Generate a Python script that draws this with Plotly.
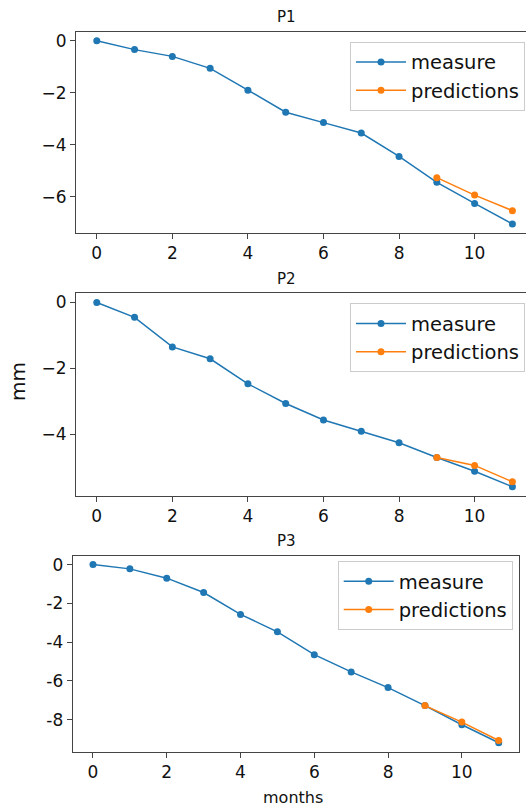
import plotly.graph_objects as go

# ---- data ----
months = list(range(12))
pred_months = [9, 10, 11]

p1_measure = [0, -0.34, -0.60, -1.06, -1.90, -2.75, -3.15, -3.55, -4.45, -5.45, -6.26, -7.05]
p1_pred = [-5.27, -5.94, -6.54]

p2_measure = [0, -0.45, -1.35, -1.71, -2.47, -3.07, -3.57, -3.91, -4.26, -4.71, -5.13, -5.60]
p2_pred = [-4.71, -4.95, -5.45]

p3_measure = [0, -0.22, -0.70, -1.44, -2.57, -3.47, -4.65, -5.54, -6.35, -7.28, -8.27, -9.20]
p3_pred = [-7.28, -8.13, -9.08]

panel_titles = ["P1", "P2", "P3"]
series_names = ["measure", "predictions"]

x_tickvals = [0, 2, 4, 6, 8, 10]
x_ticktext = ["0", "2", "4", "6", "8", "10"]
y1_tickvals = [0, -2, -4, -6]
y1_ticktext = ["0", "\u22122", "\u22124", "\u22126"]
y2_tickvals = [0, -2, -4]
y2_ticktext = ["0", "\u22122", "\u22124"]
y3_tickvals = [0, -2, -4, -6, -8]
y3_ticktext = ["0", "-2", "-4", "-6", "-8"]

BLUE = "#1f77b4"
ORANGE = "#ff7f0e"
FONT = "DejaVu Sans"
W, H = 526, 807

fig = go.Figure()

panels = [
    (p1_measure, p1_pred, "x", "y", "legend"),
    (p2_measure, p2_pred, "x2", "y2", "legend2"),
    (p3_measure, p3_pred, "x3", "y3", "legend3"),
]
for meas, pred, xa, ya, lg in panels:
    fig.add_trace(go.Scatter(x=months, y=meas, mode="lines+markers", name=series_names[0],
                             line=dict(color=BLUE, width=1.5), marker=dict(color=BLUE, size=7),
                             xaxis=xa, yaxis=ya, legend=lg))
    fig.add_trace(go.Scatter(x=pred_months, y=pred, mode="lines+markers", name=series_names[1],
                             line=dict(color=ORANGE, width=1.5), marker=dict(color=ORANGE, size=7),
                             xaxis=xa, yaxis=ya, legend=lg))


def px_x(p):
    return p / W


def px_y(p):
    return 1 - p / H


axis_common = dict(showline=True, linecolor="#444", linewidth=1, ticks="outside", ticklen=5,
                   tickcolor="#444", showgrid=False, zeroline=False,
                   tickfont=dict(family=FONT, size=17, color="#111"))

layout = dict(
    width=W, height=H, margin=dict(l=0, r=0, t=0, b=0),
    paper_bgcolor="white", plot_bgcolor="white",
    font=dict(family=FONT),
    xaxis=dict(domain=[px_x(76), 1], range=[-0.55, 11.36], anchor="y", mirror=True,
               tickvals=x_tickvals, ticktext=x_ticktext, **axis_common),
    yaxis=dict(domain=[px_y(233), px_y(31.7)], range=[-7.40, 0.35], anchor="x", mirror=False,
               tickvals=y1_tickvals, ticktext=y1_ticktext, **axis_common),
    xaxis2=dict(domain=[px_x(76), 1], range=[-0.55, 11.36], anchor="y2", mirror=True,
                tickvals=x_tickvals, ticktext=x_ticktext, **axis_common),
    yaxis2=dict(domain=[px_y(496), px_y(293.3)], range=[-5.88, 0.28], anchor="x2", mirror=False,
                tickvals=y2_tickvals, ticktext=y2_ticktext, **axis_common),
    xaxis3=dict(domain=[px_x(72.7), px_x(519)], range=[-0.55, 11.55], anchor="y3", mirror=True,
                tickvals=x_tickvals, ticktext=x_ticktext, **axis_common),
    yaxis3=dict(domain=[px_y(751.7), px_y(555.7)], range=[-9.66, 0.46], anchor="x3", mirror=True,
                tickvals=y3_tickvals, ticktext=y3_ticktext, **axis_common),
)

legend_common = dict(bgcolor="white", bordercolor="#cccccc", borderwidth=1,
                     font=dict(family=FONT, size=19.5, color="#111"), itemwidth=50,
                     xanchor="right", yanchor="top", xref="paper", yref="paper")
layout["legend"] = dict(x=px_x(525), y=px_y(41.7), **legend_common)
layout["legend2"] = dict(x=px_x(525), y=px_y(303.3), **legend_common)
layout["legend3"] = dict(x=px_x(512.7), y=px_y(561), **legend_common)

fig.update_layout(**layout)

annotations = []
for t, ypx in zip(panel_titles, [17, 279, 541]):
    annotations.append(dict(text=t, x=px_x(286), y=px_y(ypx), xref="paper", yref="paper",
                            showarrow=False, xanchor="center", yanchor="middle",
                            font=dict(family=FONT, size=15, color="#111")))
annotations.append(dict(text="months", x=px_x(293), y=px_y(797), xref="paper", yref="paper",
                        showarrow=False, xanchor="center", yanchor="middle",
                        font=dict(family=FONT, size=16, color="#111")))
annotations.append(dict(text="mm", x=px_x(18), y=px_y(382), xref="paper", yref="paper",
                        showarrow=False, xanchor="center", yanchor="middle", textangle=-90,
                        font=dict(family=FONT, size=20, color="#111")))
fig.update_layout(annotations=annotations)

fig.write_html("out.html", config={"displayModeBar": False},
               post_script="document.body.style.margin='0';document.body.style.overflow='hidden';")
